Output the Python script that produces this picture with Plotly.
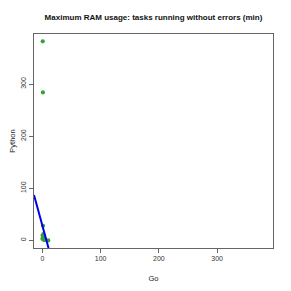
import plotly.graph_objects as go

# data (Go vs Python max RAM usage, min)
go_vals = [0.5, 0.8, 1.0, 0.3, 1.5, 2.0, 3.0, 0.0, 2.5, 4.0, 1.0, 5.0, 10.0]
py_vals = [382, 284, 28, 10, 12, 8, 5, 3, 1, 2, 6, 1, 0]
fit_intercept = 28.0
fit_slope = -4.08
axis_range = [-14.5, 396]
tick_vals = [0, 100, 200, 300]
title = "Maximum RAM usage: tasks running without errors (min)"

FONT = "Liberation Sans, Arial, sans-serif"

fig = go.Figure()
fig.add_trace(go.Scatter(
    x=go_vals, y=py_vals, mode="markers",
    marker=dict(color="#3aa03a", size=4.2, line=dict(width=0)),
    showlegend=False, cliponaxis=True))
lx = [axis_range[0], axis_range[1]]
ly = [fit_intercept + fit_slope * v for v in lx]
fig.add_trace(go.Scatter(
    x=lx, y=ly, mode="lines",
    line=dict(color="#0000ee", width=2),
    showlegend=False))

axis_common = dict(
    range=axis_range, tickvals=tick_vals, showgrid=False, zeroline=False,
    showline=True, linecolor="#666666", linewidth=1, mirror=True,
    ticks="outside", ticklen=4, tickcolor="#666666", automargin=False,
    tickfont=dict(family=FONT, size=7, color="#333333"),
    title_font=dict(family=FONT, size=7.5, color="#222222"),
)
fig.update_xaxes(**axis_common, title_text="Go", title_standoff=14)
fig.update_yaxes(**axis_common, title_text="Python", tickangle=-90, title_standoff=11)

fig.update_layout(
    width=283, height=283,
    margin=dict(l=26, r=18, t=26, b=43, autoexpand=False),
    paper_bgcolor="white", plot_bgcolor="white",
    title=dict(text="<b>" + title + "</b>", x=0.5, xref="paper", y=1 - 9 / 283,
               yanchor="middle", xanchor="center", automargin=False,
               font=dict(family=FONT, size=8, color="#111111")),
)
fig.write_html("out.html")
